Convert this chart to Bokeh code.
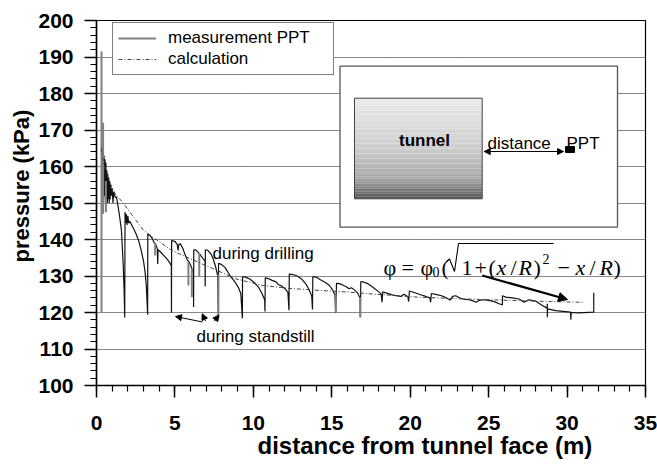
import numpy as np
from bokeh.plotting import figure
from bokeh.models import (Range1d, SingleIntervalTicker, Legend, LegendItem,
                          Arrow, NormalHead, Title)
from bokeh.core.properties import value
from bokeh.embed import file_html
from bokeh.resources import INLINE

# ---------------- data ----------------
meas_x = [0.32, 0.33, 0.36, 0.39, 0.42, 0.45, 0.48, 0.51, 0.54, 0.57, 0.60, 0.63, 0.66, 0.69, 0.72,
          0.75, 0.78, 0.81, 0.84, 0.87, 0.90, 0.95, 1.00, 1.05, 1.10, 1.20, 1.27, 1.38, 1.48, 1.59,
          1.70, 1.76, 1.80,
          1.82, 1.86, 1.90, 1.95, 2.00, 2.05, 2.12, 2.30, 2.50, 2.70, 2.85, 3.00, 3.10, 3.18, 3.26,
          3.27, 3.40, 3.55, 3.70, 3.76, 3.88, 3.90, 3.93, 4.10, 4.30, 4.50, 4.65, 4.77, 4.78,
          4.79, 5.00, 5.15, 5.20, 5.25, 5.35, 5.50, 5.65, 5.80, 5.88, 5.97, 6.06, 6.10, 6.18, 6.19,
          6.20, 6.35, 6.50, 6.58, 6.72, 6.92, 6.93, 6.94, 7.10, 7.30, 7.45, 7.60, 7.72, 7.77,
          7.78, 7.95, 8.20, 8.50, 8.80, 9.05, 9.20, 9.30,
          9.31, 9.50, 9.80, 10.10, 10.35, 10.55, 10.72, 10.74,
          10.76, 10.95, 11.20, 11.45, 11.60, 11.80, 12.00, 12.20, 12.27,
          12.29, 12.50, 12.80, 13.10, 13.35, 13.55, 13.72, 13.77,
          13.79, 14.00, 14.30, 14.60, 14.85, 15.05, 15.20, 15.25,
          15.30, 15.50, 15.75, 15.95, 16.10, 16.25, 16.45, 16.65, 16.80, 16.82,
          16.85, 17.05, 17.30, 17.60, 17.90, 18.15, 18.20, 18.25, 18.50, 18.80, 19.10, 19.40, 19.60,
          19.85, 19.90, 19.95, 20.30, 20.70, 21.00, 21.25, 21.30, 21.35, 21.70, 22.00, 22.30, 22.55,
          22.70, 22.90, 23.20, 23.50, 23.76, 24.00, 24.19, 24.40, 24.60, 25.03, 25.40, 25.67, 25.88,
          25.88, 26.09, 26.50, 26.94, 27.26, 27.57, 28.00, 28.40, 28.72, 28.74, 28.74, 28.76, 29.27,
          30.22, 30.24, 30.26, 30.75, 31.70, 31.70]
meas_y = [167.0, 153.0, 165.0, 152.0, 164.0, 151.0, 163.0, 152.0, 162.0, 150.0, 161.0, 151.0, 159.0, 150.0, 158.0,
          151.0, 157.0, 150.0, 156.0, 151.0, 155.0, 152.0, 154.0, 150.0, 153.0, 151.5, 151.6, 149.0, 146.1, 142.5,
          133.4, 126.0, 118.6,
          147.5, 144.5, 147.0, 144.0, 146.5, 144.5, 145.0, 143.5, 141.8, 139.5, 137.0, 134.0, 131.0, 127.0, 119.4,
          141.5, 141.2, 140.3, 139.0, 138.8, 137.5, 133.3, 137.2, 136.5, 135.6, 134.6, 133.8, 132.8, 120.0,
          139.7, 139.5, 138.6, 137.0, 138.7, 138.8, 137.6, 135.8, 134.3, 134.0, 133.3, 132.3, 131.8, 131.0, 121.5,
          137.2, 137.1, 136.4, 136.0, 135.2, 134.0, 127.1, 137.2, 137.0, 136.0, 134.6, 132.4, 130.2, 118.4,
          133.5, 133.2, 132.3, 130.2, 128.5, 126.8, 125.2, 118.4,
          129.8, 129.7, 129.1, 128.0, 126.8, 125.2, 123.5, 120.3,
          129.5, 129.3, 128.8, 128.4, 127.6, 127.3, 126.6, 125.6, 120.6,
          130.5, 130.4, 130.0, 129.1, 127.8, 126.3, 124.5, 120.8,
          129.8, 129.7, 128.9, 128.2, 127.4, 126.2, 124.8, 119.9,
          128.0, 127.9, 127.4, 127.0, 126.5, 126.8, 126.2, 125.3, 124.0, 118.7,
          128.5, 128.3, 127.9, 127.0, 126.0, 125.1, 122.8, 125.7, 125.3, 124.9, 124.6, 124.4, 125.0,
          124.3, 123.0, 125.9, 125.4, 124.8, 124.4, 124.0, 122.8, 125.2, 124.9, 124.6, 124.0, 123.4,
          124.4, 124.6, 123.9, 123.6, 123.5, 123.2, 122.8, 123.3, 123.5, 123.3, 122.9, 122.4, 122.1,
          124.6, 124.2, 124.0, 123.7, 122.8, 123.5, 123.1, 122.0, 121.2, 122.4, 118.7, 121.0, 120.5,
          120.1, 118.0, 120.0, 119.9, 120.1, 125.4]

# grey measurement traces (spikes / dips): x, y_from, y_to
grey_x = [0.32, 0.42, 0.60, 3.74, 5.86, 6.08, 6.55, 7.77, 15.25, 16.82]
grey_y0 = [120.0, 147.0, 147.5, 139.0, 134.0, 132.0, 136.3, 130.5, 125.0, 124.2]
grey_y1 = [191.5, 172.0, 156.0, 135.6, 127.4, 124.2, 129.7, 118.4, 120.0, 118.7]

calc_x = [0.3, 0.5, 0.8, 1.2, 1.7, 2.3, 3.0, 3.8, 4.8, 6.0, 7.7, 8.9, 10.6, 12.3, 14.4,
          16.0, 17.5, 20.5, 23.5, 26.5, 29.0, 31.0]
calc_y = [165.0, 160.0, 156.0, 152.5, 150.0, 146.5, 142.5, 140.0, 137.0, 134.7, 131.5, 129.2,
          127.4, 126.6, 126.0, 125.6, 125.1, 124.2, 123.7, 123.3, 123.0, 122.8]

x_ticks_interval = 5
y_ticks_interval = 10

# ---------------- figure ----------------
W, H = 657, 465
ML, MR, MT, MB = 96, 12, 20, 80
FW, FH = W - ML - MR, H - MT - MB
X0, X1, Y0, Y1 = 0, 35, 100, 200


def dx(px):
    return X0 + (px - ML) / FW * (X1 - X0)


def dy(py):
    return Y1 - (py - MT) / FH * (Y1 - Y0)


p = figure(width=W, height=H, x_range=Range1d(X0, X1), y_range=Range1d(Y0, Y1),
           output_backend="svg", toolbar_location=None,
           min_border_left=ML, min_border_right=MR, min_border_top=MT, min_border_bottom=MB)
p.background_fill_color = "white"
p.border_fill_color = "white"
p.outline_line_color = "black"
p.outline_line_width = 1.2

p.xaxis.ticker = SingleIntervalTicker(interval=x_ticks_interval, num_minor_ticks=5)
p.yaxis.ticker = SingleIntervalTicker(interval=y_ticks_interval, num_minor_ticks=5)
for ax in (p.xaxis[0], p.yaxis[0]):
    ax.major_label_text_font = "Liberation Sans"
    ax.major_label_text_font_size = "21px"
    ax.major_label_text_font_style = "bold"
    ax.major_label_text_color = "black"
    ax.axis_line_color = "black"
    ax.axis_line_width = 1.5
    ax.major_tick_line_color = "black"
    ax.minor_tick_line_color = "black"
    ax.major_tick_line_width = 1.5
    ax.minor_tick_line_width = 1.2
    ax.major_tick_in = 0
    ax.major_tick_out = 12
    ax.minor_tick_in = 0
    ax.minor_tick_out = 6
p.xaxis.major_label_standoff = 18
p.yaxis.major_label_standoff = 11

xtitle = Title(text="distance from tunnel face (m)", align="left", offset=161,
               text_font="Liberation Sans", text_font_size="24px",
               text_font_style="bold", text_color="black", standoff=-5)
p.add_layout(xtitle, "below")
ytitle = Title(text="pressure (kPa)", align="left", offset=123,
               text_font="Liberation Sans", text_font_size="22px",
               text_font_style="bold", text_color="black", standoff=4)
p.add_layout(ytitle, "left")

p.xgrid.grid_line_color = None
p.ygrid.grid_line_color = "#111111"
p.ygrid.grid_line_dash = "1 1"
p.ygrid.grid_line_width = 1

# ---------------- data glyphs ----------------
r_meas = p.line(meas_x, meas_y, line_color="#111111", line_width=1.2)
r_grey = p.segment(x0=grey_x, y0=grey_y0, x1=grey_x, y1=grey_y1,
                   line_color="#808080", line_width=2)
r_calc = p.line(calc_x, calc_y, line_color="#444444", line_width=1, line_dash="4 2 1 2")

legend = Legend(items=[LegendItem(label="measurement PPT", renderers=[r_grey]),
                       LegendItem(label="calculation", renderers=[r_calc])],
                location=(16, FH - 8 - 47))
legend.label_text_font = "Liberation Sans"
legend.label_text_font_size = "17px"
legend.label_text_color = "black"
legend.border_line_color = "black"
legend.border_line_width = 1.2
legend.background_fill_alpha = 1
legend.padding = 5
legend.spacing = 1
legend.margin = 0
legend.label_height = 18
legend.label_width = 160
legend.glyph_height = 18
legend.glyph_width = 38
legend.label_standoff = 12
p.add_layout(legend)

# ---------------- inset sketch ----------------
p.quad(left=dx(339.5), right=dx(617), top=dy(65.7), bottom=dy(226.7),
       fill_color="white", line_color="#555555", line_width=1.3)

n = 40
t_top, t_bot = 97.7, 198.3
edges = np.linspace(t_top, t_bot, n + 1)
g_pos = [0.0, 0.5, 0.8, 1.0]
g_val = [234, 205, 165, 85]
cols = []
for i in range(n):
    t = (i + 0.5) / n
    g = int(round(np.interp(t, g_pos, g_val)))
    cols.append("#%02x%02x%02x" % (g, g, g))
p.quad(left=dx(354), right=dx(481.7), top=[dy(e) for e in edges[:-1]],
       bottom=[dy(e) for e in edges[1:]], fill_color=cols, line_color=None)
p.quad(left=dx(354), right=dx(481.7), top=dy(t_top), bottom=dy(t_bot),
       fill_color=None, line_color="#444444", line_width=1)

p.text(x=[dx(424)], y=[dy(140)], text=["tunnel"], text_align="center",
       text_baseline="middle", text_font=value("Liberation Sans"),
       text_font_style="bold", text_font_size="17px", text_color="black")
p.text(x=[dx(487)], y=[dy(142.5)], text=["distance"], text_align="left",
       text_baseline="alphabetic", text_font=value("Liberation Sans"),
       text_font_size="17px", text_color="black")
p.text(x=[dx(566)], y=[dy(142.5)], text=["PPT"], text_align="left",
       text_baseline="alphabetic", text_font=value("Liberation Sans"),
       text_font_size="17px", text_color="black")
p.quad(left=dx(565), right=dx(574), top=dy(146), bottom=dy(152),
       fill_color="black", line_color="black")
p.add_layout(Arrow(start=NormalHead(size=6, fill_color="black", line_color="black"),
                   end=NormalHead(size=6, fill_color="black", line_color="black"),
                   x_start=dx(483.7), y_start=dy(151), x_end=dx(563), y_end=dy(151),
                   line_color="black", line_width=1.2))

# ---------------- annotations ----------------
p.text(x=[dx(212)], y=[dy(252.5)], text=["during drilling"], text_align="left",
       text_baseline="alphabetic", text_font=value("Liberation Sans"),
       text_font_size="17px", text_color="black")
p.text(x=[dx(196)], y=[dy(335.5)], text=["during standstill"], text_align="left",
       text_baseline="alphabetic", text_font=value("Liberation Sans"),
       text_font_size="17px", text_color="black")
for (xs, ys, xe, ye) in [(202, 321.5, 175, 316), (205, 320.5, 201.7, 313.3), (214, 320.5, 218.3, 314.5)]:
    p.add_layout(Arrow(end=NormalHead(size=6, fill_color="black", line_color="black"),
                       x_start=dx(xs), y_start=dy(ys), x_end=dx(xe), y_end=dy(ye),
                       line_color="black", line_width=1))

# formula, set piece by piece (pixel x of each piece, baseline at 267)
f_base = 267
up_px = [383, 401, 420, 441, 461, 474, 488, 510, 533, 557, 589, 613]
up_tx = ["\u03c6", "=", "\u03c6", "(", "1", "+", "(", "/", ")", "\u2212", "/", ")"]
it_px = [496, 518, 575, 599]
it_tx = ["x", "R", "x", "R"]
p.text(x=[dx(v) for v in up_px], y=[dy(f_base)] * len(up_px), text=up_tx,
       text_align="left", text_baseline="alphabetic", text_font=value("Liberation Serif"),
       text_font_size="22px", text_color="black")
p.text(x=[dx(v) for v in it_px], y=[dy(f_base)] * len(it_px), text=it_tx,
       text_align="left", text_baseline="alphabetic", text_font=value("Liberation Serif"),
       text_font_style="italic", text_font_size="22px", text_color="black")
p.text(x=[dx(432), dx(542)], y=[dy(f_base + 4), dy(f_base - 9)], text=["0", "2"],
       text_align="left", text_baseline="alphabetic", text_font=value("Liberation Serif"),
       text_font_size="14px", text_color="black")
rad_px = [446, 449, 454, 458, 553]
rad_py = [261, 258.5, 271, 243, 243]
p.line(x=[dx(v) for v in rad_px], y=[dy(v) for v in rad_py], line_color="black", line_width=1.1)

p.add_layout(Arrow(end=NormalHead(size=9, fill_color="black", line_color="black"),
                   x_start=dx(481.7), y_start=dy(275), x_end=dx(567), y_end=dy(299),
                   line_color="black", line_width=2.2))

with open("out.html", "w") as f:
    f.write(file_html(p, INLINE))
